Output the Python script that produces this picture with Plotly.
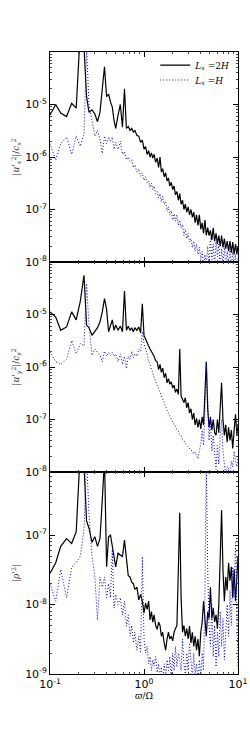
import plotly.graph_objects as go
from plotly.subplots import make_subplots

# frequency grid (varpi / Omega)
omega = [0.10, 0.115, 0.13, 0.15, 0.17, 0.19, 0.21, 0.23, 0.245, 0.26,
         0.28, 0.30, 0.32, 0.34, 0.36, 0.38, 0.40, 0.42, 0.44, 0.46,
         0.48, 0.50, 0.53, 0.56, 0.59, 0.62, 0.65, 0.68, 0.71, 0.74,
         0.77, 0.80, 0.84, 0.88, 0.92, 0.96, 1.00,
         1.04, 1.08, 1.12, 1.16, 1.20, 1.24, 1.28, 1.33, 1.38, 1.43,
         1.48, 1.53, 1.58, 1.64, 1.70, 1.76, 1.82, 1.88, 1.95, 2.02,
         2.09, 2.16, 2.24, 2.32, 2.40, 2.48, 2.57, 2.66, 2.75, 2.85,
         2.95, 3.05, 3.16, 3.27, 3.38, 3.50, 3.62, 3.75, 3.88, 4.02,
         4.16, 4.30, 4.45, 4.60, 4.76, 4.92, 5.09, 5.27, 5.45, 5.64,
         5.84, 6.04, 6.25, 6.47, 6.69, 6.92, 7.16, 7.41, 7.67, 7.94,
         8.21, 8.50, 8.79, 9.10, 9.41, 9.74, 10.0]

# |u_x'^2| / c_s^2
ux_2H = [6.3e-6, 1.0e-5, 6.9e-6, 5.9e-6, 1.05e-5, 8.5e-6, 2.5e-4, 1.26e-4, 1.41e-5, 7.1e-6,
         7.9e-6, 6.6e-6, 4.7e-6, 7.1e-6, 2.0e-5, 5.2e-5, 1.41e-5, 1.58e-5, 1.12e-5, 8.9e-6,
         5.0e-6, 3.5e-6, 6.3e-6, 1.0e-5, 3.7e-6, 2.0e-5, 3.5e-6, 3.8e-6, 3.2e-6, 3.5e-6,
         3.0e-6, 3.2e-6, 2.6e-6, 2.5e-6, 1.9e-6, 2.1e-6, 1.41e-6,
         1.58e-6, 1.12e-6, 1.32e-6, 1.0e-6, 1.2e-6, 9.5e-7, 1.12e-6, 7.9e-7, 9.5e-7, 6.3e-7,
         1.0e-6, 5.2e-7, 6.0e-7, 4.2e-7, 5.0e-7, 3.5e-7, 4.0e-7, 2.8e-7, 3.3e-7, 2.4e-7,
         2.8e-7, 1.9e-7, 2.2e-7, 1.5e-7, 2.0e-7, 1.26e-7, 1.5e-7, 1.0e-7, 1.26e-7, 8.9e-8,
         1.12e-7, 7.9e-8, 1.0e-7, 7.1e-8, 8.9e-8, 5.6e-8, 7.9e-8, 5.0e-8, 7.9e-8, 4.2e-8,
         5.6e-8, 3.5e-8, 6.3e-8, 3.2e-8, 4.5e-8, 3.2e-8, 4.0e-8, 2.6e-8, 4.5e-8, 2.5e-8,
         3.5e-8, 2.2e-8, 3.2e-8, 2.0e-8, 3.2e-8, 1.9e-8, 2.8e-8, 1.8e-8, 2.5e-8, 1.6e-8,
         2.5e-8, 1.5e-8, 2.4e-8, 1.4e-8, 2.2e-8, 1.4e-8, 2.0e-8]
ux_H = [1.8e-6, 8.7e-7, 1.8e-6, 2.4e-6, 1.12e-6, 2.5e-6, 1.6e-6, 2.8e-6, 1.26e-4, 1.0e-5,
        5.0e-6, 2.5e-6, 3.2e-6, 2.2e-6, 1.17e-6, 2.5e-6, 1.8e-6, 2.4e-6, 2.0e-6, 2.4e-6,
        1.4e-6, 1.9e-6, 1.4e-6, 2.0e-6, 1.12e-6, 1.26e-6, 8.9e-7, 1.0e-6, 8.3e-7, 8.9e-7,
        6.3e-7, 7.1e-7, 5.2e-7, 6.0e-7, 4.3e-7, 5.0e-7, 3.6e-7,
        4.2e-7, 3.2e-7, 3.5e-7, 2.6e-7, 3.2e-7, 2.4e-7, 2.8e-7, 2.0e-7, 2.2e-7, 1.66e-7,
        2.0e-7, 1.41e-7, 1.78e-7, 1.26e-7, 1.41e-7, 9.5e-8, 1.12e-7, 7.9e-8, 9.5e-8, 6.3e-8,
        8.3e-8, 6.0e-8, 7.9e-8, 5.0e-8, 6.3e-8, 4.5e-8, 5.2e-8, 3.2e-8, 4.2e-8, 2.8e-8,
        3.5e-8, 2.4e-8, 2.8e-8, 1.9e-8, 2.5e-8, 1.6e-8, 2.2e-8, 1.4e-8, 1.9e-8, 1.12e-8,
        1.6e-8, 7.9e-9, 1.4e-8, 8.9e-9, 2.0e-8, 7.9e-9, 2.8e-8, 1.12e-8, 2.2e-8, 7.9e-9,
        2.5e-8, 1.26e-8, 2.2e-8, 7.9e-9, 1.8e-8, 8.9e-9, 2.0e-8, 7.9e-9, 1.6e-8, 8.9e-9,
        1.8e-8, 7.9e-9, 1.6e-8, 8.9e-9, 1.4e-8, 7.9e-9, 1.26e-8]

# |u_y'^2| / c_s^2
uy_2H = [1.12e-5, 8.9e-6, 5.0e-6, 5.8e-6, 1.12e-5, 7.9e-6, 1.78e-5, 5.6e-5, 6.3e-6, 5.6e-6,
         4.0e-6, 4.8e-6, 5.6e-6, 7.2e-6, 1.12e-5, 2.0e-5, 1.26e-5, 4.7e-6, 6.3e-6, 7.9e-6,
         5.0e-6, 6.3e-6, 5.0e-6, 6.0e-6, 4.7e-6, 2.8e-5, 5.0e-6, 6.0e-6, 5.0e-6, 5.6e-6,
         4.7e-6, 5.6e-6, 5.0e-6, 5.8e-6, 4.5e-6, 1.6e-5, 4.0e-6,
         3.3e-6, 2.8e-6, 2.5e-6, 2.2e-6, 2.0e-6, 1.74e-6, 1.6e-6, 1.32e-6, 1.26e-6, 8.9e-7,
         1.12e-6, 7.9e-7, 9.5e-7, 6.3e-7, 7.6e-7, 5.0e-7, 6.0e-7, 4.7e-7, 5.2e-7, 4.0e-7,
         4.5e-7, 3.3e-7, 3.8e-7, 3.0e-7, 2.2e-6, 2.8e-7, 2.5e-7, 2.1e-7, 2.6e-7, 1.66e-7,
         2.1e-7, 1.32e-7, 1.6e-7, 1.0e-7, 1.32e-7, 7.9e-8, 1.05e-7, 7.1e-8, 1.0e-7, 6.6e-8,
         1.12e-7, 7.9e-8, 3.2e-7, 1.26e-6, 1.6e-7, 7.1e-8, 1.12e-7, 6.3e-8, 1.0e-7, 5.6e-8,
         5.0e-8, 1.0e-7, 5.6e-8, 1.6e-7, 5.0e-7, 1.0e-7, 5.0e-8, 7.9e-8, 3.7e-8, 7.1e-8,
         4.0e-8, 6.3e-8, 2.8e-8, 6.3e-8, 1.26e-7, 5.0e-8, 7.9e-8]
uy_H = [1.95e-6, 1.26e-6, 1.12e-6, 1.4e-6, 3.2e-6, 1.78e-6, 2.8e-6, 2.5e-6, 3.9e-5, 6.3e-6,
        1.66e-6, 2.2e-6, 1.9e-6, 1.66e-6, 1.26e-6, 2.0e-6, 1.6e-6, 1.9e-6, 1.66e-6, 1.9e-6,
        1.6e-6, 1.78e-6, 1.26e-6, 1.78e-6, 1.12e-6, 1.6e-6, 9.3e-7, 1.6e-6, 1.4e-6, 2.0e-6,
        1.5e-6, 1.78e-6, 1.6e-6, 2.2e-6, 2.0e-6, 4.7e-6, 2.8e-6,
        2.2e-6, 1.78e-6, 1.26e-6, 1.12e-6, 8.9e-7, 7.9e-7, 6.3e-7, 5.1e-7, 4.5e-7, 3.8e-7,
        3.3e-7, 2.8e-7, 2.4e-7, 2.1e-7, 1.78e-7, 1.5e-7, 1.32e-7, 1.12e-7, 1.02e-7, 8.9e-8,
        7.9e-8, 7.6e-8, 6.3e-8, 6.0e-8, 5.2e-8, 5.0e-8, 4.2e-8, 4.0e-8, 3.5e-8, 3.3e-8,
        3.0e-8, 2.8e-8, 2.6e-8, 2.5e-8, 2.2e-8, 2.4e-8, 2.0e-8, 1.78e-8, 2.5e-8, 3.5e-8,
        6.3e-8, 3.2e-8, 1.6e-7, 1.26e-6, 2.5e-7, 4.0e-8, 1.0e-7, 2.5e-8, 5.0e-8, 2.0e-8,
        1.12e-8, 3.2e-8, 1.4e-8, 5.0e-8, 1.0e-7, 2.5e-8, 1.12e-8, 7.9e-9, 1.26e-8, 1.15e-8,
        7.9e-9, 1.6e-8, 1.26e-8, 2.5e-8, 1.6e-8, 1.26e-8, 2.0e-8]

# |rho'^2|
rho_2H = [2.8e-8, 4.0e-8, 6.9e-8, 8.9e-8, 7.6e-8, 1.12e-7, 1.6e-6, 1.0e-6, 1.6e-7, 1.26e-7,
          7.9e-8, 9.5e-8, 6.9e-8, 8.9e-8, 3.2e-7, 1.26e-6, 3.5e-8, 9.5e-8, 1.0e-7, 7.2e-8,
          5.0e-8, 3.5e-8, 5.5e-8, 5.2e-8, 4.9e-8, 8.5e-8, 4.0e-8, 2.6e-8, 2.5e-8, 2.1e-8,
          2.0e-8, 1.66e-8, 1.78e-8, 1.17e-8, 1.4e-8, 1.12e-8, 7.6e-9,
          1.05e-8, 8.5e-9, 1.12e-8, 6.0e-9, 7.9e-9, 5.6e-9, 7.1e-9, 5.0e-9, 4.4e-9, 5.6e-9,
          5.0e-9, 3.5e-9, 4.0e-9, 2.8e-9, 2.2e-9, 3.2e-9, 4.0e-9, 3.2e-9, 3.5e-9, 3.0e-9,
          4.0e-9, 4.5e-9, 5.0e-9, 3.2e-8, 2.1e-7, 1.26e-8, 4.0e-9, 5.0e-9, 3.5e-9, 4.5e-9,
          3.2e-9, 4.9e-9, 2.8e-9, 4.0e-9, 2.5e-9, 3.5e-9, 2.2e-9, 3.2e-9, 1.8e-9, 4.0e-9,
          5.6e-9, 1.12e-8, 5.0e-9, 3.5e-9, 7.9e-9, 6.3e-9, 1.78e-8, 6.3e-9, 8.9e-9, 5.6e-9,
          7.1e-9, 4.5e-9, 1.0e-8, 4.0e-8, 2.3e-7, 3.2e-8, 1.12e-8, 2.5e-8, 1.6e-8, 4.0e-8,
          2.2e-8, 3.5e-8, 1.26e-8, 3.2e-8, 1.12e-8, 2.5e-8, 5.0e-8]
rho_H = [2.0e-8, 1.12e-8, 3.2e-8, 1.26e-8, 3.5e-8, 4.0e-8, 5.0e-8, 1.2e-7, 1.26e-6, 2.0e-7,
         5.0e-8, 2.5e-8, 6.0e-9, 2.5e-8, 1.78e-8, 2.5e-8, 1.26e-8, 2.0e-8, 1.26e-8, 6.2e-8,
         8.9e-9, 1.4e-8, 1.0e-8, 1.26e-8, 7.1e-9, 1.12e-8, 4.9e-9, 7.1e-9, 3.5e-9, 5.0e-9,
         2.8e-9, 4.0e-9, 2.2e-9, 3.5e-9, 2.0e-9, 4.9e-8, 3.2e-9,
         2.0e-9, 2.5e-9, 1.4e-9, 1.78e-9, 1.12e-9, 1.6e-9, 1.3e-9, 1.78e-9, 1.05e-9, 1.4e-9,
         8.9e-10, 1.26e-9, 7.9e-10, 1.4e-9, 8.9e-10, 1.6e-9, 1.12e-9, 1.78e-9, 8.9e-10, 2.0e-9,
         1.12e-9, 2.5e-9, 1.26e-9, 2.0e-9, 1.6e-9, 1.12e-9, 3.2e-9, 1.4e-9, 1.0e-9, 2.0e-9,
         1.12e-9, 2.8e-9, 1.26e-9, 8.9e-10, 2.0e-9, 1.0e-9, 1.4e-9, 7.9e-10, 1.6e-9, 8.9e-10,
         2.0e-9, 1.12e-9, 1.6e-8, 1.0e-6, 3.2e-8, 5.0e-9, 2.5e-9, 1.0e-8, 1.78e-9, 5.0e-9,
         1.26e-9, 4.0e-9, 1.78e-9, 7.9e-9, 2.5e-9, 6.3e-9, 1.6e-9, 4.5e-9, 1.0e-8, 3.5e-9,
         1.6e-8, 5.0e-9, 3.5e-8, 1.26e-8, 7.8e-8, 7.9e-9, 1.26e-9]

for arr in (ux_2H, ux_H, uy_2H, uy_H, rho_2H, rho_H):
    assert len(arr) == len(omega), len(arr)

label_2H = "<i>L</i><sub><i>x</i></sub> =2<i>H</i>"
label_H = "<i>L</i><sub><i>x</i></sub> =<i>H</i>"

ytitles = ["|<i>u</i>'<sub><i>x</i></sub><sup>2</sup>|/<i>c</i><sub><i>s</i></sub><sup>2</sup>",
           "|<i>u</i>'<sub><i>y</i></sub><sup>2</sup>|/<i>c</i><sub><i>s</i></sub><sup>2</sup>",
           "|<i>ρ</i>'<sup>2</sup>|"]
yranges = [[-8, -4], [-8, -4], [-9, -6.09]]
ytickvals = [[1e-5, 1e-6, 1e-7, 1e-8], [1e-5, 1e-6, 1e-7, 1e-8], [1e-7, 1e-8, 1e-9]]
yticktext = [["10<sup>-5</sup>", "10<sup>-6</sup>", "10<sup>-7</sup>", "10<sup>-8</sup>"],
             ["10<sup>-5</sup>", "10<sup>-6</sup>", "10<sup>-7</sup>", "10<sup>-8</sup>"],
             ["10<sup>-7</sup>", "10<sup>-8</sup>", "10<sup>-9</sup>"]]
xtickvals = [0.1, 1, 10]
xticktext = ["10<sup>-1</sup>", "10<sup>0</sup>", "10<sup>1</sup>"]

# minor tick positions on the log axes: 2..9 x 10^e
minor_y = [m * 10.0 ** e for e in range(-10, -3) for m in range(2, 10)]
minor_x = [m * 10.0 ** e for e in range(-1, 1) for m in range(2, 10)]

series = [(ux_2H, ux_H), (uy_2H, uy_H), (rho_2H, rho_H)]

fig = make_subplots(rows=3, cols=1, shared_xaxes=True, vertical_spacing=0,
                    row_heights=[210, 210, 202])

for i, (s2H, sH) in enumerate(series):
    r = i + 1
    fig.add_trace(go.Scatter(x=omega, y=s2H, mode="lines", name=label_2H,
                             line=dict(color="black", width=1.2),
                             showlegend=(i == 0), legend="legend"), row=r, col=1)
    fig.add_trace(go.Scatter(x=omega, y=sH, mode="lines", name=label_H,
                             line=dict(color="blue", width=1, dash="1px,2px"),
                             showlegend=(i == 0), legend="legend2"), row=r, col=1)
    fig.update_yaxes(type="log", range=yranges[i], tickmode="array",
                     tickvals=ytickvals[i], ticktext=yticktext[i], row=r, col=1,
                     title=dict(text=ytitles[i], font=dict(size=9, color="#333",
                                family="DejaVu Serif"), standoff=3))
    fig.update_xaxes(type="log", range=[-1, 1], tickmode="array", tickvals=xtickvals,
                     ticktext=xticktext if r == 3 else None,
                     showticklabels=(r == 3), row=r, col=1)

common = dict(showline=True, linecolor="black", linewidth=1, mirror="ticks",
              ticks="inside", ticklen=5, tickcolor="black", tickwidth=1, showgrid=False,
              zeroline=False, automargin=False,
              tickfont=dict(size=11, family="DejaVu Sans", color="black"))
fig.update_yaxes(**common,
                 minor=dict(tickmode="array", tickvals=minor_y, ticks="inside",
                            ticklen=2, tickcolor="#444", tickwidth=0.6, showgrid=False))
fig.update_xaxes(**common,
                 minor=dict(tickmode="array", tickvals=minor_x, ticks="inside",
                            ticklen=2, tickcolor="#444", tickwidth=0.6, showgrid=False))
fig.update_xaxes(title=dict(text="<i>ϖ</i>/Ω", font=dict(size=9, family="DejaVu Serif",
                                                          color="black"), standoff=2),
                 row=3, col=1)

legend_style = dict(xanchor="left", yanchor="middle", bgcolor="rgba(0,0,0,0)",
                    font=dict(size=9, family="DejaVu Serif", color="black"),
                    itemwidth=30, borderwidth=0)
fig.update_layout(
    width=250, height=750,
    margin=dict(l=50, r=12, t=52, b=76, autoexpand=False),
    paper_bgcolor="white", plot_bgcolor="white",
    legend=dict(x=0.56, y=0.979, **legend_style),
    legend2=dict(x=0.56, y=0.955, **legend_style),
)

fig.write_html("out.html",
               config={"displayModeBar": False},
               post_script="document.body.style.margin='0';"
                           "document.body.style.overflow='hidden';")
